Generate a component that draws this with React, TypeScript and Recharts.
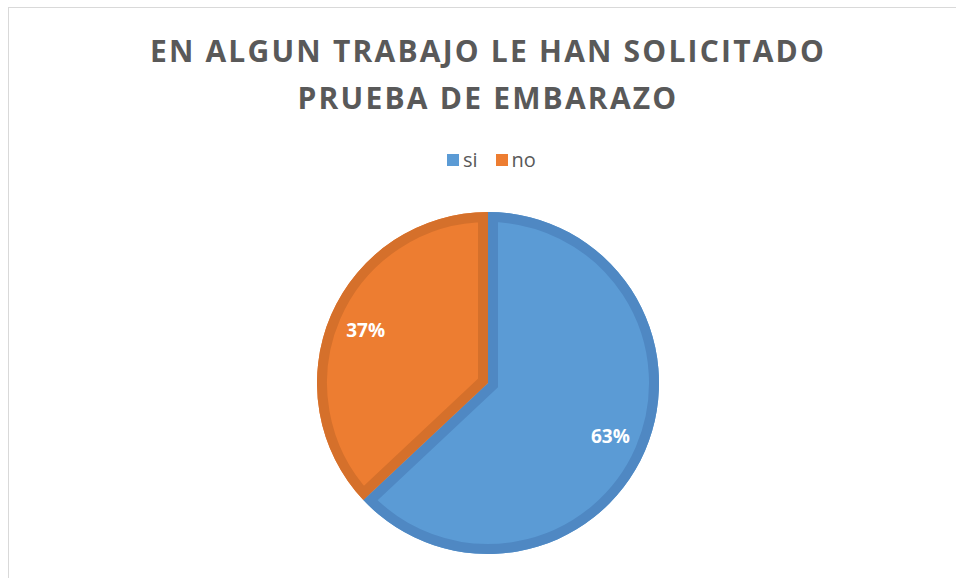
import { Cell, Pie, PieChart, Sector } from 'recharts';

const categories = ['si', 'no'];
const values = [63, 37];
const FILLS = ['#5B9BD5', '#ED7D31'];
const EDGES = ['#4F88C3', '#D5702B'];
const RADIAN = Math.PI / 180;

const titleLines = ['EN ALGUN TRABAJO LE HAN SOLICITADO', 'PRUEBA DE EMBARAZO'];

const chartData = categories.map((name, i) => ({ name, value: values[i] }));

// inner darker border of each slice + the percent text
const renderSliceLabel = (props: any) => {
  const { cx, cy, outerRadius, startAngle, endAngle, midAngle, percent, index } = props;
  const r = outerRadius * 0.78;
  const x = cx + r * Math.cos(-midAngle * RADIAN);
  const y = cy + r * Math.sin(-midAngle * RADIAN);
  const clipId = `slice-clip-${index}`;
  return (
    <g>
      <defs>
        <clipPath id={clipId}>
          <Sector cx={cx} cy={cy} innerRadius={0} outerRadius={outerRadius} startAngle={startAngle} endAngle={endAngle} />
        </clipPath>
      </defs>
      <Sector
        cx={cx}
        cy={cy}
        innerRadius={0}
        outerRadius={outerRadius}
        startAngle={startAngle}
        endAngle={endAngle}
        fill="none"
        stroke={EDGES[index]}
        strokeWidth={20}
        strokeLinejoin="miter"
        clipPath={`url(#${clipId})`}
      />
      <text
        x={x}
        y={y}
        fill="#ffffff"
        textAnchor="middle"
        dominantBaseline="central"
        style={{ fontSize: '19px', fontWeight: 700, fontFamily: '"Open Sans", sans-serif' }}
      >
        {`${Math.round(percent * 100)}%`}
      </text>
    </g>
  );
};

export default function App() {
  return (
    <div style={{ position: 'absolute', left: 0, top: 0, width: 956, height: 578, background: '#fff', overflow: 'hidden' }}>
      <div style={{ position: 'absolute', left: 8, top: 7, width: 1000, height: 700, border: '1px solid #d9d9d9' }} />
      <svg width={956} height={130} style={{ position: 'absolute', left: 0, top: 0 }}>
        {titleLines.map((line, i) => (
          <text
            key={line}
            x={488}
            y={62 + i * 47}
            textAnchor="middle"
            fill="#595959"
            style={{ fontFamily: '"Open Sans", sans-serif', fontWeight: 700, fontSize: '30px', letterSpacing: '2.2px' }}
          >
            {line}
          </text>
        ))}
      </svg>
      {/* legend */}
      <div
        style={{
          position: 'absolute',
          left: 447,
          top: 148,
          display: 'flex',
          alignItems: 'center',
          fontFamily: '"Open Sans", sans-serif',
          fontSize: '20px',
          color: '#595959',
        }}
      >
        {categories.map((name, i) => (
          <div key={name} style={{ display: 'flex', alignItems: 'center', marginRight: '18px' }}>
            <span style={{ display: 'inline-block', width: '12px', height: '12px', background: FILLS[i], marginRight: '4px' }} />
            <span style={{ lineHeight: '24px' }}>{name}</span>
          </div>
        ))}
      </div>
      <div style={{ position: 'absolute', left: 0, top: 0 }}>
        <PieChart width={956} height={578} margin={{ top: 0, right: 0, bottom: 0, left: 0 }}>
          <Pie
            data={chartData}
            dataKey="value"
            nameKey="name"
            cx={488}
            cy={383}
            outerRadius={171}
            startAngle={90}
            endAngle={-270}
            stroke="none"
            labelLine={false}
            label={renderSliceLabel}
            isAnimationActive={false}
          >
            {chartData.map((entry, index) => (
              <Cell key={`cell-${entry.name}`} fill={FILLS[index]} />
            ))}
          </Pie>
        </PieChart>
      </div>
    </div>
  );
}
